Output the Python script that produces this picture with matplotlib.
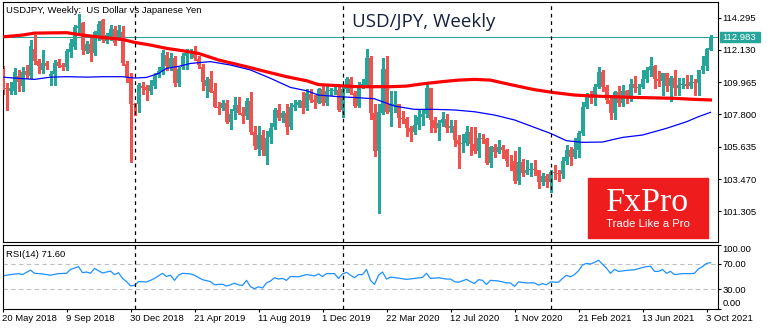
import numpy as np
import matplotlib
matplotlib.use('Agg')
import matplotlib.pyplot as plt
from matplotlib.patches import Rectangle
from matplotlib.transforms import blended_transform_factory

plt.rcParams['font.family'] = ['Liberation Sans', 'DejaVu Sans']

# weekly bars USDJPY, first bar = week of 20 May 2018, last = current week (Oct 2021)
opens = [110.85, 109.60, 109.35, 109.35, 110.40, 109.70, 110.70, 110.35, 112.20, 111.40,
         110.75, 111.22, 110.37, 110.51, 111.30, 111.10, 110.99, 112.00, 112.34, 113.57,
         113.90, 112.07, 112.55, 111.90, 112.90, 114.10, 112.75, 112.90, 113.55, 112.90,
         113.35, 111.20, 110.30, 108.50, 108.50, 109.70, 109.65, 109.40, 109.70, 110.45,
         110.68, 111.80, 111.00, 111.55, 109.90, 111.00, 111.70, 111.90, 112.00, 111.50,
         111.00, 109.70, 110.15, 109.35, 108.30, 108.20, 108.55, 107.30, 108.00, 108.45,
         107.90, 107.70, 108.70, 106.60, 105.50, 106.40, 105.00, 106.30, 106.95, 108.10,
         107.55, 107.90, 106.95, 108.30, 108.45, 108.70, 108.20, 109.20, 108.80, 108.60,
         109.50, 108.60, 109.35, 109.40, 109.45, 108.10, 109.50, 110.15, 109.25, 108.35,
         109.75, 109.80, 111.55, 107.90, 105.35, 107.90, 110.85, 107.95, 108.45, 108.50,
         107.55, 107.50, 106.90, 106.60, 107.10, 107.60, 107.80, 109.60, 107.40, 106.90,
         107.20, 107.50, 106.90, 107.00, 106.10, 105.85, 105.90, 106.60, 105.80, 105.35,
         106.25, 106.15, 104.55, 105.60, 105.30, 105.60, 105.40, 104.70, 104.65, 103.35,
         104.60, 103.85, 104.10, 104.15, 104.05, 103.30, 103.65, 103.25, 103.95, 103.85,
         103.80, 104.70, 105.40, 104.95, 105.45, 106.55, 108.30, 109.05, 108.90, 109.65,
         110.65, 109.65, 108.80, 107.90, 109.30, 108.60, 109.35, 108.95, 109.85, 109.55,
         109.65, 110.20, 110.75, 111.05, 110.15, 110.05, 110.55, 109.70, 110.25, 109.60,
         109.80, 109.85, 109.70, 109.95, 109.90, 110.75, 111.05, 112.15]
highs = [111.05, 109.90, 110.00, 110.90, 110.75, 110.95, 111.13, 112.80, 113.10, 111.50,
         112.15, 111.40, 110.70, 111.45, 111.50, 111.25, 112.18, 112.88, 113.80, 114.55,
         114.00, 112.70, 112.90, 113.40, 114.09, 114.20, 113.25, 113.80, 113.70, 113.80,
         113.70, 111.40, 110.60, 108.60, 109.90, 109.99, 109.80, 110.10, 110.55, 111.00,
         112.10, 112.00, 111.90, 111.70, 111.00, 111.90, 112.20, 112.17, 112.40, 111.70,
         111.15, 110.30, 110.70, 109.93, 108.65, 108.80, 108.80, 108.15, 108.99, 109.00,
         108.30, 108.90, 109.30, 107.00, 107.00, 106.75, 106.70, 107.25, 108.25, 108.48,
         108.00, 108.47, 108.60, 108.75, 108.80, 109.30, 109.50, 109.48, 109.10, 109.60,
         109.70, 109.70, 109.60, 109.70, 109.70, 109.70, 110.30, 110.30, 109.40, 110.00,
         110.15, 112.20, 111.75, 108.50, 108.50, 111.60, 111.70, 109.40, 109.40, 108.50,
         108.05, 107.60, 107.00, 107.75, 108.10, 108.10, 109.85, 109.60, 107.65, 107.40,
         107.95, 107.80, 107.45, 107.40, 106.40, 106.50, 107.05, 106.95, 106.95, 106.55,
         106.50, 106.20, 105.70, 105.80, 106.10, 105.75, 105.50, 105.05, 105.35, 105.65,
         104.80, 104.75, 104.55, 104.75, 104.10, 103.90, 103.80, 104.10, 104.40, 104.10,
         104.95, 105.75, 105.65, 106.20, 106.70, 108.65, 109.25, 109.35, 109.85, 110.95,
         110.80, 109.80, 108.90, 109.40, 109.70, 109.80, 109.45, 110.20, 110.35, 109.85,
         110.80, 111.00, 111.65, 111.10, 110.70, 110.60, 110.60, 110.35, 110.80, 110.25,
         110.25, 110.45, 110.45, 110.20, 110.80, 111.70, 112.25, 113.10]
lows = [109.15, 108.12, 109.20, 109.20, 109.40, 109.35, 110.27, 110.25, 111.20, 110.60,
        110.60, 110.85, 109.77, 109.77, 110.95, 110.75, 110.75, 111.65, 112.20, 113.35,
        111.85, 111.90, 111.38, 111.78, 112.80, 112.65, 112.60, 112.80, 112.45, 112.80,
        111.10, 110.00, 104.60, 107.77, 107.95, 109.15, 108.75, 109.20, 109.60, 110.30,
        110.50, 110.80, 110.80, 109.70, 109.70, 110.85, 110.85, 111.60, 111.45, 110.90,
        109.45, 109.00, 109.30, 108.28, 107.82, 108.10, 107.20, 106.80, 107.50, 107.80,
        107.20, 107.50, 106.50, 105.50, 105.05, 105.10, 104.45, 105.90, 106.80, 107.45,
        107.30, 106.48, 106.80, 108.10, 108.30, 107.90, 108.10, 108.65, 108.25, 108.55,
        108.40, 108.40, 109.10, 109.20, 108.00, 107.65, 109.30, 109.20, 108.30, 108.30,
        109.55, 109.70, 107.50, 105.00, 101.20, 107.80, 107.90, 107.00, 107.95, 106.95,
        107.25, 106.35, 106.00, 106.50, 106.80, 107.10, 107.60, 106.60, 106.65, 106.10,
        107.00, 106.65, 106.65, 105.70, 104.20, 105.30, 105.75, 105.10, 105.20, 104.95,
        105.90, 104.50, 104.30, 104.95, 105.20, 104.90, 104.35, 104.05, 103.20, 103.15,
        103.65, 103.80, 103.65, 103.75, 102.90, 103.05, 102.95, 102.60, 103.50, 103.35,
        103.55, 104.50, 104.40, 104.90, 104.95, 106.40, 108.20, 108.60, 108.40, 109.60,
        109.40, 108.60, 107.50, 107.50, 108.35, 108.35, 108.55, 108.70, 109.30, 109.20,
        109.55, 110.00, 110.40, 109.55, 109.70, 109.10, 109.35, 108.70, 109.10, 109.10,
        109.55, 109.60, 109.60, 109.10, 109.10, 110.60, 110.80, 112.10]
closes = [109.43, 109.53, 109.56, 110.66, 110.00, 110.66, 110.46, 112.37, 111.41, 111.05,
          111.25, 111.05, 110.51, 111.24, 111.04, 110.99, 112.06, 112.60, 113.69, 113.73,
          112.15, 112.55, 111.90, 113.30, 113.85, 112.80, 113.10, 113.50, 112.60, 113.45,
          111.22, 110.28, 108.50, 108.40, 109.77, 109.55, 109.45, 109.77, 110.45, 110.68,
          111.90, 111.05, 111.55, 109.90, 110.85, 111.75, 112.05, 112.00, 111.60, 111.10,
          109.95, 110.10, 109.30, 108.28, 108.20, 108.55, 107.30, 107.85, 108.45, 107.90,
          107.70, 108.70, 106.60, 105.70, 106.40, 105.40, 106.25, 106.90, 108.10, 107.55,
          107.90, 106.95, 108.30, 108.45, 108.65, 108.20, 109.25, 108.80, 108.65, 109.50,
          108.60, 109.35, 109.45, 109.45, 108.10, 109.50, 110.15, 109.25, 108.35, 109.75,
          109.80, 111.60, 107.90, 105.35, 107.95, 110.85, 107.95, 108.45, 108.50, 107.55,
          107.50, 106.90, 106.60, 107.10, 107.65, 107.80, 109.60, 107.40, 106.90, 107.20,
          107.50, 106.90, 107.00, 106.10, 105.85, 105.90, 106.60, 105.80, 105.35, 106.25,
          106.15, 104.55, 105.60, 105.30, 105.60, 105.40, 104.70, 104.65, 103.35, 104.60,
          103.85, 104.10, 104.15, 104.05, 103.30, 103.65, 103.25, 103.95, 103.85, 103.80,
          104.70, 105.40, 104.95, 105.45, 106.55, 108.30, 109.05, 108.90, 109.65, 110.65,
          109.65, 108.80, 107.90, 109.30, 108.60, 109.35, 108.95, 109.85, 109.55, 109.65,
          110.20, 110.75, 111.05, 110.15, 110.05, 110.55, 109.70, 110.25, 109.60, 109.80,
          109.85, 109.70, 109.95, 109.90, 110.75, 111.05, 112.20, 112.98]

# moving averages (bar index, value)
ma_slow_idx = [0, 5, 8, 16, 20, 25, 30, 33, 37, 41, 45, 49, 54, 61, 66, 71, 76, 79, 84, 89,
               97, 101, 105, 110, 114, 118, 122, 127, 133, 138, 143, 148, 158, 168, 173, 177]
ma_slow_val = [113.00, 113.12, 113.25, 113.28, 113.12, 112.96, 112.83, 112.63, 112.45, 112.23,
               112.07, 111.89, 111.45, 111.00, 110.66, 110.33, 110.06, 109.80, 109.73, 109.66,
               109.66, 109.70, 109.85, 110.00, 110.10, 110.15, 110.10, 109.80, 109.46, 109.26,
               109.10, 109.03, 108.94, 108.88, 108.81, 108.77]
ma_fast_idx = [0, 5, 8, 12, 16, 21, 25, 30, 33, 36, 39, 41, 44, 47, 52, 57, 62, 67, 72, 76,
               79, 84, 89, 93, 98, 103, 108, 113, 118, 123, 128, 133, 137, 141, 145, 150,
               155, 160, 166, 171, 174, 177]
ma_fast_val = [110.30, 110.20, 110.15, 110.30, 110.33, 110.30, 110.33, 110.33, 110.24, 110.28,
               110.55, 110.89, 111.02, 111.22, 111.34, 111.11, 110.78, 110.22, 109.61, 109.39,
               109.10, 108.99, 108.92, 108.85, 108.36, 108.14, 108.14, 108.10, 107.98, 107.76,
               107.43, 106.93, 106.53, 106.04, 105.93, 105.95, 106.26, 106.42, 106.87, 107.31,
               107.65, 107.94]

# RSI(14)
rsi_idx = [0, 2, 4, 5, 7, 8, 10, 12, 14, 16, 17, 19, 20, 21, 22, 23, 25, 27, 28, 29,
           30, 31, 32, 33, 34, 36, 37, 38, 40, 41, 42, 43, 44, 45, 47, 48, 50, 52, 53, 55,
           56, 57, 58, 59, 60, 61, 62, 63, 64, 65, 66, 67, 68, 69, 70, 71, 72, 74, 76, 78,
           79, 80, 81, 83, 84, 85, 86, 87, 88, 89, 90, 91, 92, 93, 94, 95, 96, 97, 99, 101,
           103, 105, 106, 107, 109, 111, 112, 113, 114, 116, 117, 118, 119, 120, 121, 122, 124, 126, 127, 128,
           129, 131, 133, 134, 135, 136, 137, 139, 140, 141, 142, 143, 144, 145, 146, 147, 148, 149, 150, 151,
           152, 153, 154, 156, 158, 160, 161, 162, 163, 164, 165, 166, 167, 168, 170, 172, 173, 174, 175, 176,
           177]
rsi_val = [51.0, 53.0, 54.5, 53.0, 60.0, 55.0, 54.0, 52.0, 54.5, 55.0, 61.0, 65.5, 56.0, 57.0, 55.0, 62.5, 55.5, 58.5, 53.0, 56.0,
           47.0, 42.0, 35.5, 36.0, 42.0, 41.5, 44.0, 47.0, 55.0, 50.0, 52.0, 44.0, 52.0, 55.0, 54.0, 52.0, 45.0, 42.0, 37.0, 38.0,
           35.0, 37.0, 39.5, 37.0, 36.0, 44.0, 34.0, 31.0, 34.0, 32.0, 40.0, 43.0, 48.0, 46.0, 47.0, 44.0, 50.0, 49.5, 53.0, 51.0,
           54.0, 50.0, 54.5, 54.5, 47.0, 54.0, 56.5, 52.0, 48.0, 53.0, 53.0, 61.0, 44.0, 37.5, 52.0, 57.0, 46.0, 49.0, 47.5, 45.5,
           47.0, 48.5, 55.0, 47.0, 48.0, 46.0, 46.0, 42.0, 41.0, 45.5, 42.0, 39.0, 45.0, 44.0, 37.5, 44.0, 43.0, 40.0, 40.0, 34.5,
           41.5, 40.0, 40.0, 36.5, 39.0, 37.0, 41.5, 41.0, 47.0, 52.0, 49.5, 53.0, 59.0, 68.0, 70.5, 69.5, 72.0, 75.5, 69.0, 63.0,
           55.0, 61.0, 58.0, 59.5, 60.5, 64.0, 65.5, 66.0, 58.0, 58.0, 61.0, 55.0, 58.0, 53.0, 54.5, 54.5, 55.0, 62.0, 65.5, 70.5,
           71.6]

date_ticks = [0, 16, 32, 48, 64, 80, 96, 112, 128, 144, 160, 176]
date_labels = ['20 May 2018', '9 Sep 2018', '30 Dec 2018', '21 Apr 2019', '11 Aug 2019',
               '1 Dec 2019', '22 Mar 2020', '12 Jul 2020', '1 Nov 2020', '21 Feb 2021',
               '13 Jun 2021', '3 Oct 2021']
price_ticks = [114.295, 112.130, 109.965, 107.800, 105.635, 103.470, 101.305]
rsi_ticks = [100, 70, 30, 0]
year_breaks = [33, 85, 137]
last_price = 112.983
rsi_last = 71.60

UP = '#26a69a'
DOWN = '#ef5350'
W, H = 770, 330

fig = plt.figure(figsize=(W / 100, H / 100), dpi=100)


def px_axes(x0, y0, x1, y1):
    return fig.add_axes([x0 / W, 1 - y1 / H, (x1 - x0) / W, (y1 - y0) / H])


ax = px_axes(2.5, 1.5, 717.5, 242)
ax_rsi = px_axes(2.5, 244.5, 717.5, 308.5)

o, h, l, c = (np.array(v) for v in (opens, highs, lows, closes))
assert len(o) == len(h) == len(l) == len(c)
x = np.arange(len(c))
col = np.where(c >= o, UP, DOWN)

# candles (drawn crisp, like the terminal does)
ax.axhline(last_price, color=UP, lw=0.8, zorder=1)
ax.vlines(x, l, h, colors=col, lw=1.0, zorder=2, antialiased=False)
ax.bar(x, np.maximum(np.abs(c - o), 0.06), bottom=np.minimum(o, c), width=0.78,
       color=col, linewidth=0, zorder=3, antialiased=False)
ax.plot(ma_slow_idx, ma_slow_val, color='#ff0000', lw=2.3, zorder=4)
ax.plot(ma_fast_idx, ma_fast_val, color='#0000ff', lw=0.9, zorder=4)

for a in (ax, ax_rsi):
    for k in year_breaks:
        a.axvline(k, color='black', lw=0.9, ls=(0, (3, 3)), zorder=5)
    a.set_xlim(0, 178.75)
    for s in a.spines.values():
        s.set_linewidth(0.8)
        s.set_color('black')

ax.set_ylim(99.25, 115.37)
ax.yaxis.tick_right()
ax.set_yticks(price_ticks)
ax.set_yticklabels([f'{p:.3f}' for p in price_ticks])
ax.set_xticks([])
ax.tick_params(axis='y', length=2.2, width=0.8, pad=1.2, labelsize=6.8)

# current price tag
tr = blended_transform_factory(ax.transAxes, ax.transData)
ax.add_patch(Rectangle((1 + 2 / 714, last_price - 0.335), 40 / 714, 0.67,
                       transform=tr, color=UP, clip_on=False, zorder=6))
ax.text(1 + 4.5 / 714, last_price, f'{last_price:.3f}', transform=tr, color='white',
        fontsize=6.8, va='center', ha='left', clip_on=False, zorder=7)

# RSI pane
ax_rsi.axhline(70, color='#c0c0c0', lw=0.8, ls=(0, (4, 3)))
ax_rsi.axhline(30, color='#c0c0c0', lw=0.8, ls=(0, (4, 3)))
ax_rsi.plot(rsi_idx, rsi_val, color='#1e90ff', lw=0.9)
ax_rsi.set_ylim(0, 100)
ax_rsi.yaxis.tick_right()
ax_rsi.set_yticks(rsi_ticks)
ax_rsi.set_yticklabels([f'{v:.2f}' for v in rsi_ticks])
ylabs = ax_rsi.get_yticklabels()
ylabs[0].set_va('top')
ylabs[-1].set_va('bottom')
ax_rsi.tick_params(axis='y', length=2.2, width=0.8, pad=1.2, labelsize=6.8)
ax_rsi.set_xticks(date_ticks)
ax_rsi.set_xticklabels(date_labels, ha='left')
ax_rsi.tick_params(axis='x', length=2.0, width=0.8, pad=1.8, labelsize=6.8)

# captions
fig.text(6 / W, 1 - 12.7 / H, 'USDJPY, Weekly:  US Dollar vs Japanese Yen',
         fontsize=6.8, va='baseline', color='black')
fig.text(351.5 / W, 1 - 27.3 / H, 'USD/JPY, Weekly', fontsize=13.5,
         family=['Open Sans', 'DejaVu Sans'], va='baseline', color='#14213d')
fig.text(5.5 / W, 1 - 256.7 / H, f'RSI(14) {rsi_last:.2f}', fontsize=6.8,
         va='baseline', color='black')

# FxPro badge
fig.add_artist(Rectangle((588 / W, 1 - 238 / H), 119.5 / W, 60 / H,
                         transform=fig.transFigure, color='#ee1c1c', zorder=8))
fig.text(648 / W, 1 - 211 / H, 'FxPro', fontsize=24.5, color='white', ha='center',
         va='baseline', family=['Liberation Serif', 'DejaVu Serif'], zorder=9)
fig.text(648 / W, 1 - 226.8 / H, 'Trade Like a Pro', fontsize=8.2, color='white',
         ha='center', va='baseline', zorder=9)

fig.savefig('out.png', dpi=100)
